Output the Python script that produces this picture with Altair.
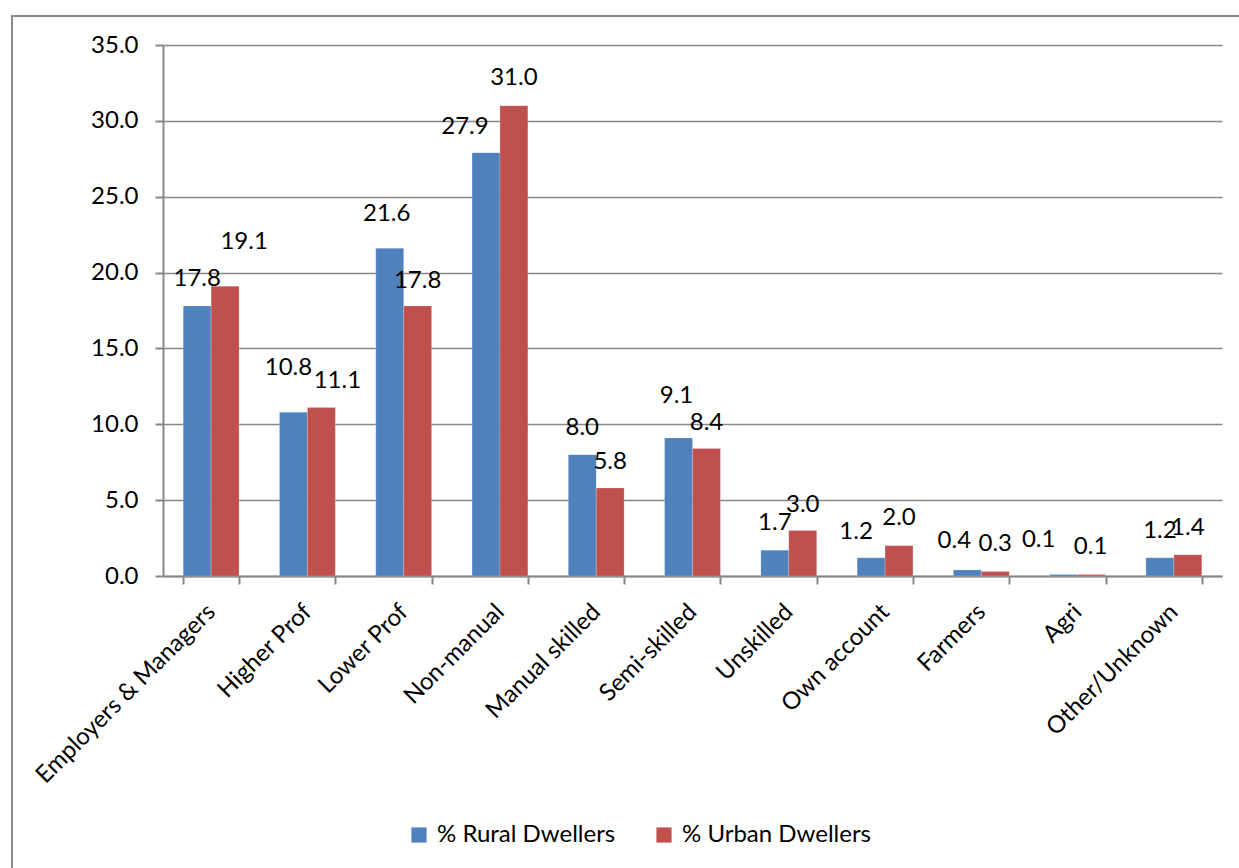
import altair as alt
import pandas as pd

# Occupational class of rural vs urban dwellers (%)
categories = [
    "Employers & Managers", "Higher Prof", "Lower Prof", "Non-manual",
    "Manual skilled", "Semi-skilled", "Unskilled", "Own account",
    "Farmers", "Agri", "Other/Unknown",
]
rural = [17.8, 10.8, 21.6, 27.9, 8.0, 9.1, 1.7, 1.2, 0.4, 0.1, 1.2]
urban = [19.1, 11.1, 17.8, 31.0, 5.8, 8.4, 3.0, 2.0, 0.3, 0.1, 1.4]
series = ["% Rural Dwellers", "% Urban Dwellers"]
y_ticks = [0, 5, 10, 15, 20, 25, 30, 35]

# pixel nudges for each value label (relative to bar top / bar centre)
rural_dx = [0, -5, -3, -21, 0, -2, 0, -15, -13, -25, 0]
rural_dy = [-27, -44, -34, -26, -27, -42, -27, -26, -29, -34, -27]
urban_dx = [19, 16, 0, 0, 0, 0, 0, 0, 0, -1, 0]
urban_dy = [-44, -27, -25, -28, -26, -26, -25, -28, -27, -27, -27]

rows = []
for i, c in enumerate(categories):
    rows.append(dict(category=c, series=series[0], value=rural[i], dx=rural_dx[i], dy=rural_dy[i]))
    rows.append(dict(category=c, series=series[1], value=urban[i], dx=urban_dx[i], dy=urban_dy[i]))
df = pd.DataFrame(rows)

FONT = "Lato"
FS = 24
GRAY = "#878787"

x_enc = alt.X(
    "category:N", sort=categories, title=None,
    scale=alt.Scale(paddingInner=0.42, paddingOuter=0.21),
    axis=alt.Axis(
        labelAngle=-45, labelAlign="right", labelBaseline="middle",
        labelFontSize=FS, labelFont=FONT, labelColor="black",
        labelPadding=24, tickBand="extent", tickSize=8, tickWidth=2,
        tickColor=GRAY, domainColor=GRAY, domainWidth=2, grid=False,
        labelLimit=400,
    ),
)
xoff = alt.XOffset("series:N", sort=series, scale=alt.Scale(paddingInner=0, paddingOuter=0))
y_enc = alt.Y(
    "value:Q", title=None,
    scale=alt.Scale(domain=[0, 35], nice=False),
    axis=alt.Axis(
        values=y_ticks, format=".1f", labelFontSize=FS, labelFont=FONT,
        labelColor="black", labelPadding=17, tickSize=8, tickWidth=2,
        tickColor=GRAY, domainColor=GRAY, domainWidth=2,
        gridColor=GRAY, gridWidth=1.5,
    ),
)

base = alt.Chart(df)

frame = alt.Chart(alt.Data(values=[{}])).mark_rect(
    fill=None, stroke="#8a8a8a", strokeWidth=2
).encode(
    x=alt.value(-151), y=alt.value(-29), x2=alt.value(1090), y2=alt.value(840)
)

bars = base.mark_bar(stroke="white", strokeWidth=0.4, strokeOpacity=0.5).encode(
    x=x_enc,
    xOffset=xoff,
    y=y_enc,
    color=alt.Color(
        "series:N", sort=series, title=None,
        scale=alt.Scale(domain=series, range=["#4F81BD", "#C0504D"]),
        legend=alt.Legend(
            orient="none", legendX=244, legendY=778, direction="horizontal",
            symbolType="square", symbolSize=230, symbolStrokeWidth=0,
            labelFontSize=FS, labelFont=FONT, labelColor="black",
            columnPadding=36, labelOffset=6, labelLimit=400,
        ),
    ),
)

# one text layer per distinct nudge
label_layers = []
pairs = sorted(set(zip(df["dx"], df["dy"])))
for dx, dy in pairs:
    label_layers.append(
        base.transform_filter(f"datum.dx == {dx} && datum.dy == {dy}")
        .mark_text(dx=int(dx), dy=int(dy), baseline="middle", align="center",
                   fontSize=FS, font=FONT, color="black")
        .encode(
            x=alt.X("category:N", sort=categories),
            xOffset=alt.XOffset("series:N", sort=series),
            y=alt.Y("value:Q"),
            text=alt.Text("value:Q", format=".1f"),
        )
    )

chart = alt.layer(frame, bars, *label_layers).properties(
    width=1059, height=531,
    autosize=alt.AutoSizeParams(type="none"),
    padding={"left": 163, "top": 45, "right": 17, "bottom": 292},
    background="white",
).configure_view(stroke=None)

chart.save("out.html", embed_options={"renderer": "svg", "actions": False})
